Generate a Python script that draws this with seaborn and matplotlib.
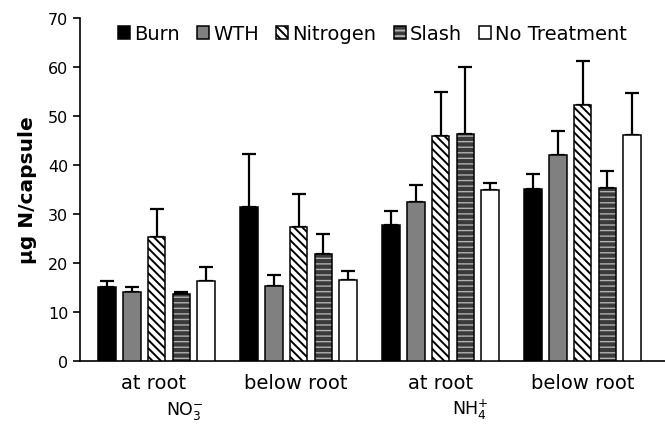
import numpy as np
import pandas as pd
import matplotlib
matplotlib.use("Agg")
import matplotlib.pyplot as plt
import matplotlib.colors as mcolors
import seaborn as sns

# ---- data ----
categories = ["at root ", "below root ", "at root", "below root"]
treatments = ["Burn", "WTH", "Nitrogen", "Slash", "No Treatment"]
burn = [15.1, 31.4, 27.7, 35.2]
wth = [14.0, 15.3, 32.5, 42.1]
nitrogen = [25.3, 27.3, 46.0, 52.2]
slash = [13.7, 21.8, 46.4, 35.4]
no_treatment = [16.4, 16.6, 35.0, 46.1]
burn_err = [1.3, 10.8, 3.0, 2.9]
wth_err = [1.1, 2.2, 3.4, 4.9]
nitrogen_err = [5.7, 6.8, 8.9, 9.1]
slash_err = [0.3, 4.2, 13.5, 3.4]
no_treatment_err = [2.7, 1.8, 1.3, 8.6]
ion_labels = ["NO$_3^{-}$", "NH$_4^{+}$"]
yticks = [0, 10, 20, 30, 40, 50, 60, 70]

means = [burn, wth, nitrogen, slash, no_treatment]
errs = [burn_err, wth_err, nitrogen_err, slash_err, no_treatment_err]

df = pd.DataFrame({
    "cat": np.tile(categories, len(treatments)),
    "trt": np.repeat(treatments, len(categories)),
    "val": np.concatenate(means),
})

sns.set_theme(style="ticks")
plt.rcParams["font.family"] = ["DejaVu Sans"]
plt.rcParams["text.color"] = "black"
plt.rcParams["axes.labelcolor"] = "black"
plt.rcParams["xtick.color"] = "black"
plt.rcParams["ytick.color"] = "black"
plt.rcParams["hatch.linewidth"] = 1.4

fig = plt.figure(figsize=(6.65, 4.27), dpi=100)
ax = fig.add_axes([80 / 665, 65 / 427, 585 / 665, 343 / 427])

facecols = {"Burn": "#000000", "WTH": "#808080", "Nitrogen": "#ffffff",
            "Slash": "#3a3a3a", "No Treatment": "#ffffff"}
sns.barplot(data=df, x="cat", y="val", hue="trt", order=categories,
            hue_order=treatments, palette=facecols, width=0.87, gap=0.29,
            errorbar=None, legend=False, saturation=1, ax=ax,
            edgecolor="black", linewidth=1.1, zorder=3)

bar_containers = list(ax.containers)
hatches = [None, None, "\\\\\\\\", "---", None]
for cont, h, e, name in zip(bar_containers, hatches, errs, treatments):
    xs, ys = [], []
    for p in cont.patches:
        p.set_zorder(3)
        if h:
            p.set_hatch(h)
        if name == "Slash":
            p._hatch_color = mcolors.to_rgba("#b0b0b0")
            if hasattr(p, "set_hatch_linewidth"):
                p.set_hatch_linewidth(1.0)
            elif hasattr(p, "_hatch_linewidth"):
                p._hatch_linewidth = 1.0
        xs.append(p.get_x() + p.get_width() / 2)
        ys.append(p.get_height())
    ax.errorbar(xs, ys, yerr=[np.zeros(len(e)), e], fmt="none",
                ecolor="black", elinewidth=1.6, capsize=5, capthick=1.6,
                zorder=2)

handles = [c.patches[0] for c in bar_containers]
ax.legend(handles=handles, labels=treatments, loc="center",
          bbox_to_anchor=(0.5, 1 - 16 / 343), ncol=5, frameon=False,
          fontsize=14, handlelength=0.62, handleheight=0.62,
          handletextpad=0.2, columnspacing=0.9, borderaxespad=0)

ax.set_ylim(0, 70)
ax.set_xlim(-0.54, 3.58)
ax.set_yticks(yticks)
ax.set_xlabel("")
ax.set_ylabel("µg N/capsule", fontsize=14.5, fontweight="bold", labelpad=8)
ax.tick_params(axis="y", labelsize=11.5, length=5, width=1.2, direction="out")
ax.tick_params(axis="x", labelsize=14, length=0, pad=9)
sns.despine(ax=ax)
for s in ["left", "bottom"]:
    ax.spines[s].set_linewidth(1.2)
    ax.spines[s].set_color("black")

trans = matplotlib.transforms.blended_transform_factory(ax.transData, ax.transAxes)
ax.text(0.20, -0.143, ion_labels[0], transform=trans, ha="center", va="center", fontsize=12.5)
ax.text(2.21, -0.14, ion_labels[1], transform=trans, ha="center", va="center", fontsize=12.5)

fig.savefig("out.png", dpi=100)
